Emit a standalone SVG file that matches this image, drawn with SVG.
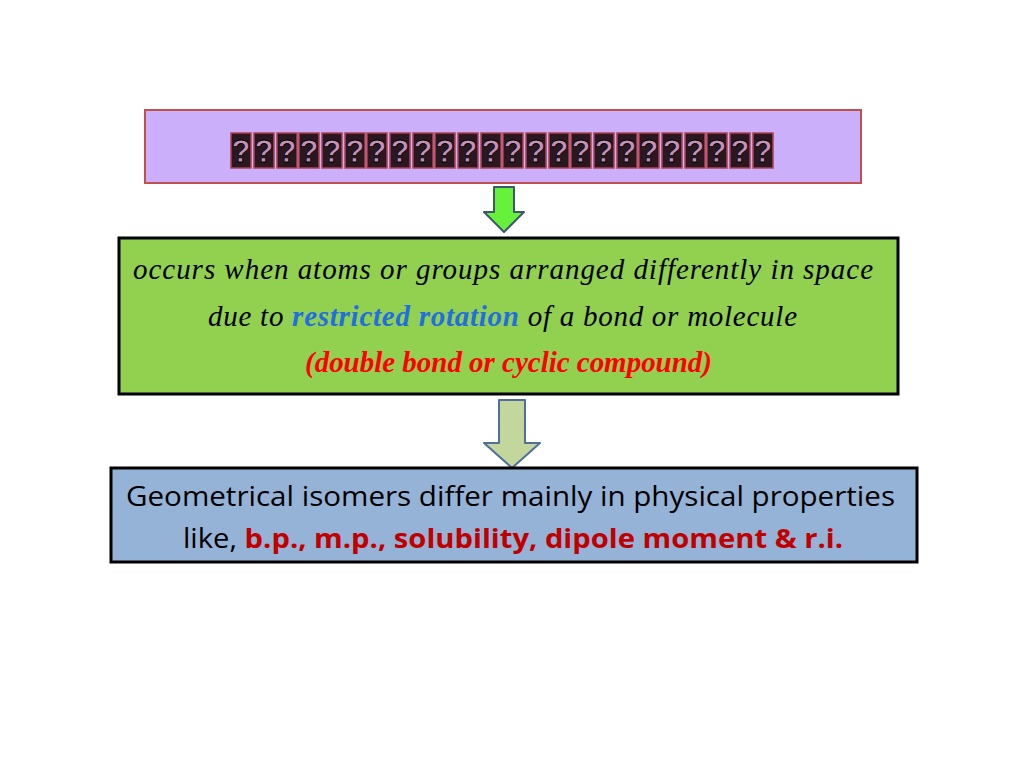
<svg xmlns="http://www.w3.org/2000/svg" width="1024" height="768" viewBox="0 0 1024 768">
<style>
.script{font-family:"Liberation Serif","DejaVu Serif",serif;font-style:italic;font-size:29px;fill:#000}
.blue{fill:#1F6FE0;font-weight:bold}
.red{fill:#FF0000;font-weight:bold}
.sans{font-family:"Open Sans","Noto Sans","Liberation Sans",sans-serif;font-size:27px;fill:#000}
.rb{fill:#C00000;font-weight:bold}
.tofu{fill:#2a1820;stroke:#B04050;stroke-width:1.5}
.q{font-family:"Liberation Sans",sans-serif;font-weight:bold;font-size:31px;fill:#C890B8;stroke:#000;stroke-width:0.8;text-anchor:middle}
</style>
<rect width="1024" height="768" fill="#FFFFFF"/>
<g id="title">
<rect x="145" y="110" width="716" height="73" fill="#CBAFFB" stroke="#C0504D" stroke-width="2"/>
<g id="tofu-row">
<rect class="tofu" x="231" y="133" width="20" height="35"/><text class="q" x="241" y="162">?</text>
<rect class="tofu" x="254" y="133" width="20" height="35"/><text class="q" x="264" y="162">?</text>
<rect class="tofu" x="277" y="133" width="20" height="35"/><text class="q" x="287" y="162">?</text>
<rect class="tofu" x="299" y="133" width="20" height="35"/><text class="q" x="309" y="162">?</text>
<rect class="tofu" x="322" y="133" width="20" height="35"/><text class="q" x="332" y="162">?</text>
<rect class="tofu" x="345" y="133" width="20" height="35"/><text class="q" x="355" y="162">?</text>
<rect class="tofu" x="367" y="133" width="20" height="35"/><text class="q" x="377" y="162">?</text>
<rect class="tofu" x="390" y="133" width="20" height="35"/><text class="q" x="400" y="162">?</text>
<rect class="tofu" x="413" y="133" width="20" height="35"/><text class="q" x="423" y="162">?</text>
<rect class="tofu" x="435" y="133" width="20" height="35"/><text class="q" x="445" y="162">?</text>
<rect class="tofu" x="458" y="133" width="20" height="35"/><text class="q" x="468" y="162">?</text>
<rect class="tofu" x="481" y="133" width="20" height="35"/><text class="q" x="491" y="162">?</text>
<rect class="tofu" x="503" y="133" width="20" height="35"/><text class="q" x="513" y="162">?</text>
<rect class="tofu" x="526" y="133" width="20" height="35"/><text class="q" x="536" y="162">?</text>
<rect class="tofu" x="549" y="133" width="20" height="35"/><text class="q" x="559" y="162">?</text>
<rect class="tofu" x="571" y="133" width="20" height="35"/><text class="q" x="581" y="162">?</text>
<rect class="tofu" x="594" y="133" width="20" height="35"/><text class="q" x="604" y="162">?</text>
<rect class="tofu" x="617" y="133" width="20" height="35"/><text class="q" x="627" y="162">?</text>
<rect class="tofu" x="639" y="133" width="20" height="35"/><text class="q" x="649" y="162">?</text>
<rect class="tofu" x="662" y="133" width="20" height="35"/><text class="q" x="672" y="162">?</text>
<rect class="tofu" x="685" y="133" width="20" height="35"/><text class="q" x="695" y="162">?</text>
<rect class="tofu" x="707" y="133" width="20" height="35"/><text class="q" x="717" y="162">?</text>
<rect class="tofu" x="730" y="133" width="20" height="35"/><text class="q" x="740" y="162">?</text>
<rect class="tofu" x="753" y="133" width="20" height="35"/><text class="q" x="763" y="162">?</text>
</g>
</g>
<g id="connectors">
<path d="M494,187 H514 V212 H524 L504,232 L484,212 H494 Z" fill="#66F23A" stroke="#3F5670" stroke-width="2" stroke-linejoin="round"/>
<path d="M499,400 H525 V443 H540 L512,468 L484,443 H499 Z" fill="#C3D69B" stroke="#4F6F9F" stroke-width="2" stroke-linejoin="round"/>
</g>
<g id="definition">
<rect x="119" y="238" width="779" height="156" fill="#92D050" stroke="#000" stroke-width="3"/>
<text class="script" x="133" y="279" textLength="740" lengthAdjust="spacing">occurs when atoms or groups arranged differently in space</text>
<text class="script" x="208" y="326" textLength="589" lengthAdjust="spacing">due to <tspan class="blue">restricted rotation</tspan> of a bond or molecule</text>
<text class="script red" x="305" y="372" textLength="407" lengthAdjust="spacing">(double bond or cyclic compound)</text>
</g>
<g id="properties">
<rect x="111" y="468" width="806" height="94" fill="#95B3D7" stroke="#000" stroke-width="3"/>
<text class="sans" x="126" y="506" textLength="769" lengthAdjust="spacingAndGlyphs">Geometrical isomers differ mainly in physical properties</text>
<text class="sans" x="183" y="548" textLength="660" lengthAdjust="spacingAndGlyphs">like, <tspan class="rb">b.p., m.p., solubility, dipole moment  &amp; r.i.</tspan></text>
</g>
</svg>
